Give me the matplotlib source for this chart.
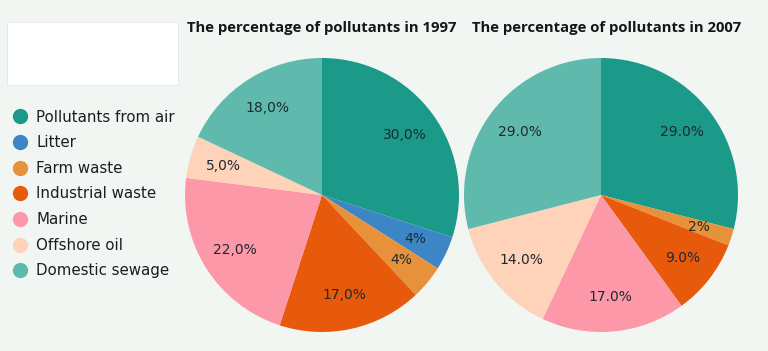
import matplotlib
matplotlib.use("Agg")
import matplotlib.pyplot as plt
from matplotlib.lines import Line2D
from matplotlib.patches import Rectangle

categories = ["Pollutants from air", "Litter", "Farm waste", "Industrial waste",
              "Marine", "Offshore oil", "Domestic sewage"]
colors = ["#1b9a89", "#3d86c6", "#e8913b", "#e85a0b", "#fd98a9", "#fed3b9", "#60b9ad"]

values_1997 = [30, 4, 4, 17, 22, 5, 18]
labels_1997 = ["30,0%", "4%", "4%", "17,0%", "22,0%", "5,0%", "18,0%"]

values_2007 = [29, 0, 2, 9, 17, 14, 29]
labels_2007 = ["29.0%", "", "2%", "9.0%", "17.0%", "14.0%", "29.0%"]

bg = "#f2f6f3"
text_color = "#1d2a33"

fig = plt.figure(figsize=(7.68, 3.51), dpi=100)
fig.patch.set_facecolor(bg)

# blank box in the top-left corner
fig.patches.append(Rectangle((7 / 768, 1 - 85 / 351), 171 / 768, 63 / 351,
                             transform=fig.transFigure, facecolor="white",
                             edgecolor="#e3e6e4", linewidth=0.6))


def draw_pie(cx, tx, title, values, labels):
    r = 137
    ax = fig.add_axes([(cx - r) / 768, (156 - r) / 351, 2 * r / 768, 2 * r / 351])
    wedges, texts, autotexts = ax.pie(values, colors=colors, startangle=90,
                                      counterclock=False, radius=1,
                                      autopct="%1.1f%%", pctdistance=0.75,
                                      wedgeprops=dict(linewidth=0))
    for t, lab in zip(autotexts, labels):
        t.set_text(lab)
        t.set_color(text_color)
        t.set_fontsize(10)
    ax.set_xlim(-1, 1)
    ax.set_ylim(-1, 1)
    ax.set_aspect("auto")
    ax.axis("off")
    fig.text(tx / 768, 1 - 28 / 351, title, ha="center", va="center",
             fontsize=10.7, fontweight="bold", family="Open Sans", color="#161616")


draw_pie(322, 322, "The percentage of pollutants in 1997", values_1997, labels_1997)
draw_pie(601, 607, "The percentage of pollutants in 2007", values_2007, labels_2007)

handles = [Line2D([], [], marker="o", linestyle="", markersize=10,
                  markerfacecolor=c, markeredgecolor=c) for c in colors]
fig.legend(handles, categories, loc="upper left",
           bbox_to_anchor=(-3 / 768, 1 - 96 / 351), frameon=False,
           fontsize=10.8, labelspacing=0.71, handletextpad=0.5,
           handlelength=1.2, labelcolor="#1d1d1d")

fig.savefig("out.png", dpi=100, facecolor=bg)
